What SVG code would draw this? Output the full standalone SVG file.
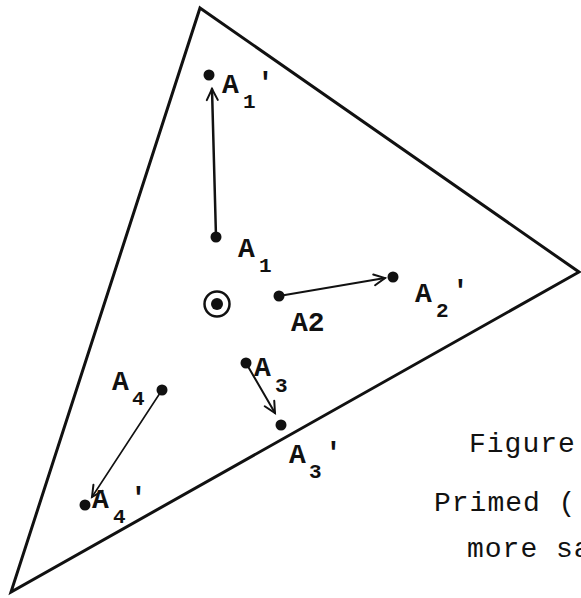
<svg xmlns="http://www.w3.org/2000/svg" width="581" height="598" viewBox="0 0 581 598">
<style>
.edge{fill:none;stroke:#111;stroke-width:3;stroke-linejoin:miter}
.arr{fill:none;stroke:#111;stroke-linecap:round}
.dot{fill:#111}
.lbl{font-family:"Liberation Mono","Courier New",monospace;font-size:28px;font-weight:bold;fill:#111}
.sub{font-family:"Liberation Mono","Courier New",monospace;font-size:21px;font-weight:bold;fill:#111}
.cap{font-family:"Liberation Mono","Courier New",monospace;font-size:28px;letter-spacing:1px;fill:#111}
</style>
<defs>
<marker id="head" markerUnits="userSpaceOnUse" markerWidth="16" markerHeight="16" viewBox="-13 -8 16 16" refX="0" refY="0" orient="auto">
<path d="M-11,-5.5 L0,0 L-11,5.5" fill="none" stroke="#111" stroke-width="2" stroke-linecap="round" stroke-linejoin="miter"/>
</marker>
</defs>
<rect width="581" height="598" fill="#fff"/>
<g id="triangle">
<polygon class="edge" points="200,8 579,272 11,592"/>
</g>
<g id="centroid">
<circle cx="217" cy="304" r="12.5" fill="none" stroke="#111" stroke-width="2.5"/>
<circle cx="217" cy="304" r="6" class="dot"/>
</g>
<g id="connectors">
<line class="arr" x1="216" y1="237" x2="212" y2="89" stroke-width="2.5" marker-end="url(#head)"/>
<line class="arr" x1="279" y1="296" x2="385" y2="278" stroke-width="2" marker-end="url(#head)"/>
<line class="arr" x1="246" y1="363" x2="275" y2="413" stroke-width="2" marker-end="url(#head)"/>
<line class="arr" x1="162" y1="390" x2="92" y2="497" stroke-width="1.6" marker-end="url(#head)"/>
</g>
<g id="A1p">
<circle cx="209" cy="75" r="5.5" class="dot"/>
<text class="lbl" x="222" y="93">A</text><text class="sub" x="243" y="108">1</text><text class="lbl" x="257" y="91">'</text>
</g>
<g id="A1">
<circle cx="216" cy="237" r="5.5" class="dot"/>
<text class="lbl" x="238" y="257">A</text><text class="sub" x="259" y="272">1</text>
</g>
<g id="A2">
<circle cx="279" cy="296" r="5.5" class="dot"/>
<text class="lbl" x="291" y="331">A2</text>
</g>
<g id="A2p">
<circle cx="393" cy="277" r="5.5" class="dot"/>
<text class="lbl" x="415" y="302">A</text><text class="sub" x="436" y="317">2</text><text class="lbl" x="452" y="299">'</text>
</g>
<g id="A3">
<circle cx="246" cy="363" r="5.5" class="dot"/>
<text class="lbl" x="254" y="376">A</text><text class="sub" x="275" y="392">3</text>
</g>
<g id="A3p">
<circle cx="281" cy="425" r="5.5" class="dot"/>
<text class="lbl" x="289" y="463">A</text><text class="sub" x="309" y="478">3</text><text class="lbl" x="325" y="461">'</text>
</g>
<g id="A4">
<circle cx="162" cy="390" r="5.5" class="dot"/>
<text class="lbl" x="112" y="390">A</text><text class="sub" x="132" y="405">4</text>
</g>
<g id="A4p">
<circle cx="85" cy="505" r="5.5" class="dot"/>
<text class="lbl" x="92" y="508">A</text><text class="sub" x="113" y="523">4</text><text class="lbl" x="130" y="506">'</text>
</g>
<g id="caption">
<text class="cap" x="469" y="452">Figure</text>
<text class="cap" x="434" y="511">Primed (</text>
<text class="cap" x="467" y="557">more sa</text>
</g>
</svg>
